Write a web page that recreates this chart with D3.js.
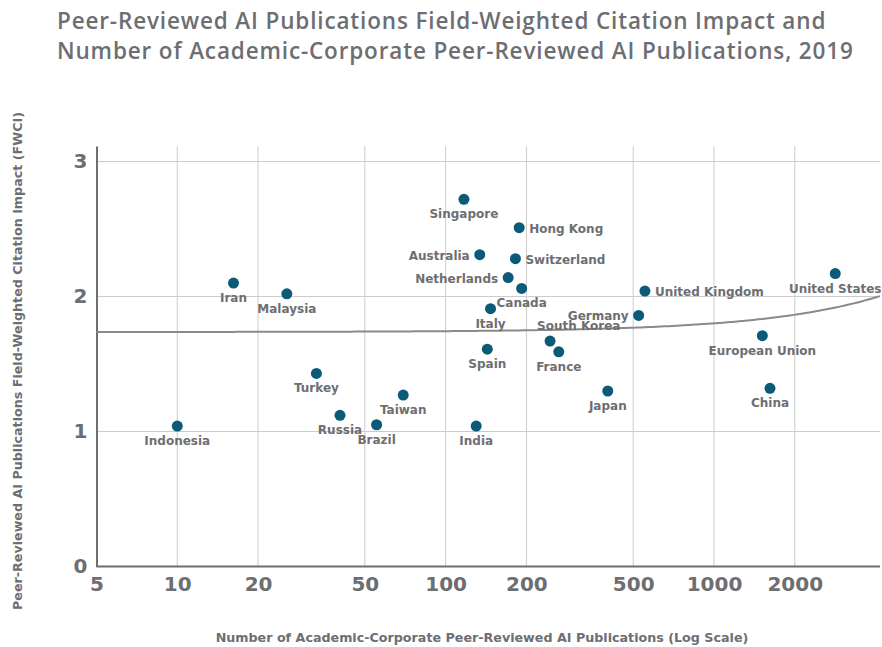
<!DOCTYPE html>
<html>
<head>
<meta charset="utf-8">
<script src="https://cdn.jsdelivr.net/npm/d3@7"></script>
<style>
  body { margin: 0; background: #fff; }
  svg { font-family: "DejaVu Sans", sans-serif; }
</style>
</head>
<body>
<div id="chart"></div>
<script>
// data
const countries = ['Singapore', 'Hong Kong', 'Australia', 'Switzerland', 'Netherlands', 'Canada',
  'Italy', 'Spain', 'South Korea', 'France', 'Germany', 'United Kingdom', 'United States',
  'European Union', 'China', 'Japan', 'Iran', 'Malaysia', 'Turkey', 'Taiwan', 'Russia',
  'Brazil', 'Indonesia', 'India'];
const publications = [117, 188, 134, 182, 171, 192, 147, 143, 245, 264, 524, 553, 2831,
  1514, 1617, 402, 16.2, 25.6, 33, 69.5, 40.4, 55.3, 10, 130];
const fwci = [2.72, 2.51, 2.31, 2.28, 2.14, 2.06, 1.91, 1.61, 1.67, 1.59, 1.86, 2.04, 2.17,
  1.71, 1.32, 1.30, 2.10, 2.02, 1.43, 1.27, 1.12, 1.05, 1.04, 1.04];
// where the label sits: below, left, right, above
const labelPos = ['below', 'right', 'left', 'right', 'left', 'below', 'below', 'below', 'above',
  'below', 'left', 'right', 'below', 'below', 'below', 'below', 'below', 'below', 'below',
  'below', 'below', 'below', 'below', 'below'];
const xTicks = [5, 10, 20, 50, 100, 200, 500, 1000, 2000];
const yTicks = [0, 1, 2, 3];
// linear trend (fwci vs publications)
const trendIntercept = 1.737;
const trendSlope = 0.000064;

const width = 882, height = 647;
const grey = '#6d6e71';

const svg = d3.select('#chart').append('svg')
  .attr('width', width)
  .attr('height', height);

const x = d3.scaleLog().domain([5, 4156]).range([96.5, 880]);
const y = d3.scaleLinear().domain([0, 3.115]).range([566.5, 146]);

// title
const title = svg.append('text')
  .attr('x', 57)
  .attr('fill', grey)
  .style('font-family', '"Open Sans", sans-serif')
  .style('font-size', '22.5px')
  .style('font-weight', '600')
  .style('letter-spacing', '0.85px');
title.append('tspan').attr('x', 57).attr('y', 29)
  .text('Peer-Reviewed AI Publications Field-Weighted Citation Impact and');
title.append('tspan').attr('x', 57).attr('y', 59)
  .text('Number of Academic-Corporate Peer-Reviewed AI Publications, 2019');

// grid lines
svg.append('g')
  .selectAll('line')
  .data(xTicks.slice(1))
  .join('line')
  .attr('x1', d => x(d)).attr('x2', d => x(d))
  .attr('y1', y.range()[1]).attr('y2', y(0))
  .attr('stroke', '#cccccc')
  .attr('stroke-width', 1);

svg.append('g')
  .selectAll('line')
  .data(yTicks.slice(1))
  .join('line')
  .attr('x1', x(5)).attr('x2', 880)
  .attr('y1', d => y(d)).attr('y2', d => y(d))
  .attr('stroke', '#cccccc')
  .attr('stroke-width', 1);

// axes
const xAxis = svg.append('g')
  .attr('transform', 'translate(0,' + y(0) + ')')
  .call(d3.axisBottom(x).tickValues(xTicks).tickFormat(d3.format('d')).tickSize(0).tickPadding(10));
xAxis.select('.domain').attr('stroke', grey).attr('stroke-width', 2).attr('d', 'M' + x(5) + ',0H880');
xAxis.selectAll('text')
  .attr('fill', grey)
  .style('font-size', '20px')
  .style('font-weight', '700')
  .style('font-family', '"DejaVu Sans", sans-serif');

const yAxis = svg.append('g')
  .attr('transform', 'translate(' + x(5) + ',0)')
  .call(d3.axisLeft(y).tickValues(yTicks).tickFormat(d3.format('d')).tickSize(0).tickPadding(9));
yAxis.select('.domain').attr('stroke', grey).attr('stroke-width', 2);
yAxis.selectAll('text')
  .attr('fill', grey)
  .style('font-size', '20px')
  .style('font-weight', '700')
  .style('font-family', '"DejaVu Sans", sans-serif');

// axis titles
svg.append('text')
  .attr('x', 482).attr('y', 642)
  .attr('text-anchor', 'middle')
  .attr('fill', grey)
  .style('font-size', '12.7px')
  .style('font-weight', '700')
  .text('Number of Academic-Corporate Peer-Reviewed AI Publications (Log Scale)');

svg.append('text')
  .attr('transform', 'translate(22,361) rotate(-90)')
  .attr('text-anchor', 'middle')
  .attr('fill', grey)
  .style('font-size', '12.7px')
  .style('font-weight', '700')
  .text('Peer-Reviewed AI Publications Field-Weighted Citation Impact (FWCI)');

// trend line
const trendX = d3.range(0, 201).map(i => 5 * Math.pow(4156 / 5, i / 200));
svg.append('path')
  .datum(trendX)
  .attr('fill', 'none')
  .attr('stroke', '#8a8a8c')
  .attr('stroke-width', 2)
  .attr('d', d3.line().x(d => x(d)).y(d => y(trendIntercept + trendSlope * d)));

// points
const data = countries.map((c, i) => ({ name: c, pubs: publications[i], fwci: fwci[i], pos: labelPos[i] }));

svg.append('g')
  .selectAll('circle')
  .data(data)
  .join('circle')
  .attr('cx', d => x(d.pubs))
  .attr('cy', d => y(d.fwci))
  .attr('r', 5.5)
  .attr('fill', '#0b5a78');

svg.append('g')
  .selectAll('text')
  .data(data)
  .join('text')
  .attr('x', function (d) {
    if (d.pos === 'right') return x(d.pubs) + 10;
    if (d.pos === 'left') return x(d.pubs) - 10;
    if (d.pos === 'above') return x(d.pubs) - 13;
    return x(d.pubs);
  })
  .attr('y', function (d) {
    if (d.pos === 'below') return y(d.fwci) + 19;
    if (d.pos === 'above') return y(d.fwci) - 11;
    return y(d.fwci) + 5;
  })
  .attr('text-anchor', function (d) {
    if (d.pos === 'right') return 'start';
    if (d.pos === 'left') return 'end';
    if (d.pos === 'above') return 'start';
    return 'middle';
  })
  .attr('fill', grey)
  .style('font-size', '12px')
  .style('font-weight', '700')
  .text(d => d.name);
</script>
</body>
</html>
